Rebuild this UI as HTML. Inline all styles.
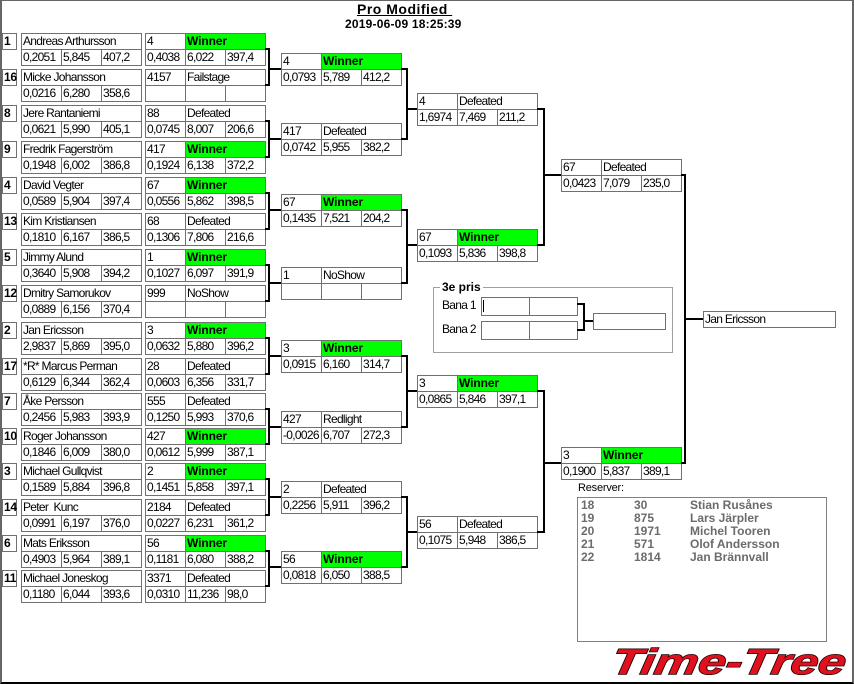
<!DOCTYPE html>
<html>
<head>
<meta charset="utf-8">
<style>
body{margin:0;width:854px;height:684px;position:relative;overflow:hidden;background:#fff;font-family:"Liberation Sans",sans-serif;color:#000}
.frame{position:absolute;left:0;top:0;width:854px;height:684px;box-sizing:border-box;border-top:1px solid #666;border-left:2px solid #666;border-right:2px solid #666;border-bottom:2px solid #000}
.b{position:absolute;width:121px;height:33px}
.c{position:absolute;box-sizing:border-box;height:17px;border:1px solid #707070;font-size:12px;letter-spacing:-0.7px;line-height:15px;padding-left:1px;white-space:nowrap;overflow:hidden;background:#fff}
.n{left:0;top:0;width:121px}
.p{left:0;top:0;width:41px}
.q{left:40px;top:0;width:81px}
.x{left:0;top:16px;width:41px}
.y{left:40px;top:16px;width:41px}
.z{left:80px;top:16px;width:41px}
.g{background:#00ff00;font-weight:bold;letter-spacing:-0.1px}
.s{position:absolute;left:2px;width:15px;height:17px;box-sizing:border-box;border:1px solid #707070;font-weight:bold;font-size:12px;line-height:15px;padding-left:1px;letter-spacing:-0.3px}
.br{position:absolute;box-sizing:border-box;border:2px solid #000;border-left:0}
.l{position:absolute;background:#000;height:2px}
.t{position:absolute;white-space:nowrap}
.rs{position:absolute;font-size:12px;font-weight:bold;color:#6b6b6b;line-height:13px;white-space:nowrap}
</style>
</head>
<body>
<div class="frame"></div>

<div class="t" style="left:357px;top:1px;font-size:14px;font-weight:bold;letter-spacing:0.5px;line-height:16px;text-decoration:underline">Pro Modified&nbsp;</div>
<div class="t" style="left:345px;top:17px;font-size:12px;font-weight:bold;letter-spacing:0.2px;line-height:14px">2019-06-09 18:25:39</div>

<!-- Round 1 -->
<div class="s" style="top:33px">1</div>
<div class="b" style="left:21px;top:33px"><div class="c n">Andreas Arthursson</div><div class="c x">0,2051</div><div class="c y">5,845</div><div class="c z">407,2</div></div>
<div class="b" style="left:145px;top:33px"><div class="c p">4</div><div class="c q g">Winner</div><div class="c x">0,4038</div><div class="c y">6,022</div><div class="c z">397,4</div></div>

<div class="s" style="top:69px">16</div>
<div class="b" style="left:21px;top:69px"><div class="c n">Micke Johansson</div><div class="c x">0,0216</div><div class="c y">6,280</div><div class="c z">358,6</div></div>
<div class="b" style="left:145px;top:69px"><div class="c p">4157</div><div class="c q">Failstage</div><div class="c x"></div><div class="c y"></div><div class="c z"></div></div>

<div class="s" style="top:105px">8</div>
<div class="b" style="left:21px;top:105px"><div class="c n">Jere Rantaniemi</div><div class="c x">0,0621</div><div class="c y">5,990</div><div class="c z">405,1</div></div>
<div class="b" style="left:145px;top:105px"><div class="c p">88</div><div class="c q">Defeated</div><div class="c x">0,0745</div><div class="c y">8,007</div><div class="c z">206,6</div></div>

<div class="s" style="top:141px">9</div>
<div class="b" style="left:21px;top:141px"><div class="c n">Fredrik Fagerström</div><div class="c x">0,1948</div><div class="c y">6,002</div><div class="c z">386,8</div></div>
<div class="b" style="left:145px;top:141px"><div class="c p">417</div><div class="c q g">Winner</div><div class="c x">0,1924</div><div class="c y">6,138</div><div class="c z">372,2</div></div>

<div class="s" style="top:177px">4</div>
<div class="b" style="left:21px;top:177px"><div class="c n">David Vegter</div><div class="c x">0,0589</div><div class="c y">5,904</div><div class="c z">397,4</div></div>
<div class="b" style="left:145px;top:177px"><div class="c p">67</div><div class="c q g">Winner</div><div class="c x">0,0556</div><div class="c y">5,862</div><div class="c z">398,5</div></div>

<div class="s" style="top:213px">13</div>
<div class="b" style="left:21px;top:213px"><div class="c n">Kim Kristiansen</div><div class="c x">0,1810</div><div class="c y">6,167</div><div class="c z">386,5</div></div>
<div class="b" style="left:145px;top:213px"><div class="c p">68</div><div class="c q">Defeated</div><div class="c x">0,1306</div><div class="c y">7,806</div><div class="c z">216,6</div></div>

<div class="s" style="top:249px">5</div>
<div class="b" style="left:21px;top:249px"><div class="c n">Jimmy Alund</div><div class="c x">0,3640</div><div class="c y">5,908</div><div class="c z">394,2</div></div>
<div class="b" style="left:145px;top:249px"><div class="c p">1</div><div class="c q g">Winner</div><div class="c x">0,1027</div><div class="c y">6,097</div><div class="c z">391,9</div></div>

<div class="s" style="top:285px">12</div>
<div class="b" style="left:21px;top:285px"><div class="c n">Dmitry Samorukov</div><div class="c x">0,0889</div><div class="c y">6,156</div><div class="c z">370,4</div></div>
<div class="b" style="left:145px;top:285px"><div class="c p">999</div><div class="c q">NoShow</div><div class="c x"></div><div class="c y"></div><div class="c z"></div></div>

<div class="s" style="top:322px">2</div>
<div class="b" style="left:21px;top:322px"><div class="c n">Jan Ericsson</div><div class="c x">2,9837</div><div class="c y">5,869</div><div class="c z">395,0</div></div>
<div class="b" style="left:145px;top:322px"><div class="c p">3</div><div class="c q g">Winner</div><div class="c x">0,0632</div><div class="c y">5,880</div><div class="c z">396,2</div></div>

<div class="s" style="top:358px">17</div>
<div class="b" style="left:21px;top:358px"><div class="c n">*R* Marcus Perman</div><div class="c x">0,6129</div><div class="c y">6,344</div><div class="c z">362,4</div></div>
<div class="b" style="left:145px;top:358px"><div class="c p">28</div><div class="c q">Defeated</div><div class="c x">0,0603</div><div class="c y">6,356</div><div class="c z">331,7</div></div>

<div class="s" style="top:393px">7</div>
<div class="b" style="left:21px;top:393px"><div class="c n">Åke Persson</div><div class="c x">0,2456</div><div class="c y">5,983</div><div class="c z">393,9</div></div>
<div class="b" style="left:145px;top:393px"><div class="c p">555</div><div class="c q">Defeated</div><div class="c x">0,1250</div><div class="c y">5,993</div><div class="c z">370,6</div></div>

<div class="s" style="top:428px">10</div>
<div class="b" style="left:21px;top:428px"><div class="c n">Roger Johansson</div><div class="c x">0,1846</div><div class="c y">6,009</div><div class="c z">380,0</div></div>
<div class="b" style="left:145px;top:428px"><div class="c p">427</div><div class="c q g">Winner</div><div class="c x">0,0612</div><div class="c y">5,999</div><div class="c z">387,1</div></div>

<div class="s" style="top:463px">3</div>
<div class="b" style="left:21px;top:463px"><div class="c n">Michael Gullqvist</div><div class="c x">0,1589</div><div class="c y">5,884</div><div class="c z">396,8</div></div>
<div class="b" style="left:145px;top:463px"><div class="c p">2</div><div class="c q g">Winner</div><div class="c x">0,1451</div><div class="c y">5,858</div><div class="c z">397,1</div></div>

<div class="s" style="top:499px">14</div>
<div class="b" style="left:21px;top:499px"><div class="c n">Peter&nbsp; Kunc</div><div class="c x">0,0991</div><div class="c y">6,197</div><div class="c z">376,0</div></div>
<div class="b" style="left:145px;top:499px"><div class="c p">2184</div><div class="c q">Defeated</div><div class="c x">0,0227</div><div class="c y">6,231</div><div class="c z">361,2</div></div>

<div class="s" style="top:535px">6</div>
<div class="b" style="left:21px;top:535px"><div class="c n">Mats Eriksson</div><div class="c x">0,4903</div><div class="c y">5,964</div><div class="c z">389,1</div></div>
<div class="b" style="left:145px;top:535px"><div class="c p">56</div><div class="c q g">Winner</div><div class="c x">0,1181</div><div class="c y">6,080</div><div class="c z">388,2</div></div>

<div class="s" style="top:570px">11</div>
<div class="b" style="left:21px;top:570px"><div class="c n">Michael Joneskog</div><div class="c x">0,1180</div><div class="c y">6,044</div><div class="c z">393,6</div></div>
<div class="b" style="left:145px;top:570px"><div class="c p">3371</div><div class="c q">Defeated</div><div class="c x">0,0310</div><div class="c y">11,236</div><div class="c z">98,0</div></div>

<!-- R1 -> R2 brackets -->
<div class="br" style="left:265px;top:48px;width:5px;height:38px"></div><div class="l" style="left:268px;top:68px;width:13px"></div>
<div class="br" style="left:265px;top:120px;width:5px;height:38px"></div><div class="l" style="left:268px;top:138px;width:13px"></div>
<div class="br" style="left:265px;top:192px;width:5px;height:38px"></div><div class="l" style="left:268px;top:209px;width:13px"></div>
<div class="br" style="left:265px;top:264px;width:5px;height:38px"></div><div class="l" style="left:268px;top:282px;width:13px"></div>
<div class="br" style="left:265px;top:337px;width:5px;height:38px"></div><div class="l" style="left:268px;top:355px;width:13px"></div>
<div class="br" style="left:265px;top:408px;width:5px;height:37px"></div><div class="l" style="left:268px;top:426px;width:13px"></div>
<div class="br" style="left:265px;top:478px;width:5px;height:38px"></div><div class="l" style="left:268px;top:496px;width:13px"></div>
<div class="br" style="left:265px;top:550px;width:5px;height:37px"></div><div class="l" style="left:268px;top:566px;width:13px"></div>

<!-- Round 2 -->
<div class="b" style="left:281px;top:53px"><div class="c p">4</div><div class="c q g">Winner</div><div class="c x">0,0793</div><div class="c y">5,789</div><div class="c z">412,2</div></div>
<div class="b" style="left:281px;top:123px"><div class="c p">417</div><div class="c q">Defeated</div><div class="c x">0,0742</div><div class="c y">5,955</div><div class="c z">382,2</div></div>
<div class="b" style="left:281px;top:194px"><div class="c p">67</div><div class="c q g">Winner</div><div class="c x">0,1435</div><div class="c y">7,521</div><div class="c z">204,2</div></div>
<div class="b" style="left:281px;top:267px"><div class="c p">1</div><div class="c q">NoShow</div><div class="c x"></div><div class="c y"></div><div class="c z"></div></div>
<div class="b" style="left:281px;top:340px"><div class="c p">3</div><div class="c q g">Winner</div><div class="c x">0,0915</div><div class="c y">6,160</div><div class="c z">314,7</div></div>
<div class="b" style="left:281px;top:411px"><div class="c p">427</div><div class="c q">Redlight</div><div class="c x">-0,0026</div><div class="c y">6,707</div><div class="c z">272,3</div></div>
<div class="b" style="left:281px;top:481px"><div class="c p">2</div><div class="c q">Defeated</div><div class="c x">0,2256</div><div class="c y">5,911</div><div class="c z">396,2</div></div>
<div class="b" style="left:281px;top:551px"><div class="c p">56</div><div class="c q g">Winner</div><div class="c x">0,0818</div><div class="c y">6,050</div><div class="c z">388,5</div></div>

<!-- R2 -> R3 brackets -->
<div class="br" style="left:401px;top:68px;width:7px;height:72px"></div><div class="l" style="left:406px;top:108px;width:11px"></div>
<div class="br" style="left:401px;top:209px;width:7px;height:75px"></div><div class="l" style="left:406px;top:244px;width:11px"></div>
<div class="br" style="left:401px;top:355px;width:7px;height:73px"></div><div class="l" style="left:406px;top:390px;width:11px"></div>
<div class="br" style="left:401px;top:496px;width:7px;height:72px"></div><div class="l" style="left:406px;top:531px;width:11px"></div>

<!-- Round 3 -->
<div class="b" style="left:417px;top:93px"><div class="c p">4</div><div class="c q">Defeated</div><div class="c x">1,6974</div><div class="c y">7,469</div><div class="c z">211,2</div></div>
<div class="b" style="left:417px;top:229px"><div class="c p">67</div><div class="c q g">Winner</div><div class="c x">0,1093</div><div class="c y">5,836</div><div class="c z">398,8</div></div>
<div class="b" style="left:417px;top:375px"><div class="c p">3</div><div class="c q g">Winner</div><div class="c x">0,0865</div><div class="c y">5,846</div><div class="c z">397,1</div></div>
<div class="b" style="left:417px;top:516px"><div class="c p">56</div><div class="c q">Defeated</div><div class="c x">0,1075</div><div class="c y">5,948</div><div class="c z">386,5</div></div>

<!-- R3 -> R4 brackets -->
<div class="br" style="left:537px;top:108px;width:8px;height:138px"></div><div class="l" style="left:543px;top:174px;width:18px"></div>
<div class="br" style="left:537px;top:390px;width:8px;height:143px"></div><div class="l" style="left:543px;top:462px;width:18px"></div>

<!-- Round 4 -->
<div class="b" style="left:561px;top:159px"><div class="c p">67</div><div class="c q">Defeated</div><div class="c x">0,0423</div><div class="c y">7,079</div><div class="c z">235,0</div></div>
<div class="b" style="left:561px;top:447px"><div class="c p">3</div><div class="c q g">Winner</div><div class="c x">0,1900</div><div class="c y">5,837</div><div class="c z">389,1</div></div>

<!-- R4 -> Final -->
<div class="br" style="left:681px;top:174px;width:5px;height:290px"></div><div class="l" style="left:684px;top:318px;width:19px"></div>
<div class="c" style="left:703px;top:311px;width:133px">Jan Ericsson</div>

<!-- 3e pris -->
<div style="position:absolute;left:433px;top:287px;width:240px;height:66px;box-sizing:border-box;border:1px solid #a0a0a0"></div>
<div class="t" style="left:440px;top:280px;font-size:12px;font-weight:bold;line-height:14px;background:#fff;padding:0 2px">3e pris</div>
<div class="t" style="left:442px;top:297px;font-size:12px;letter-spacing:-0.7px;line-height:17px">Bana 1</div>
<div class="t" style="left:442px;top:321px;font-size:12px;letter-spacing:-0.7px;line-height:17px">Bana 2</div>
<div class="c" style="left:481px;top:297px;width:49px;height:19px"></div>
<div class="c" style="left:529px;top:297px;width:49px;height:19px"></div>
<div style="position:absolute;left:483px;top:300px;width:1px;height:12px;background:#000"></div>
<div class="c" style="left:481px;top:321px;width:49px;height:19px"></div>
<div class="c" style="left:529px;top:321px;width:49px;height:19px"></div>
<div class="br" style="left:577px;top:303px;width:8px;height:28px"></div><div class="l" style="left:583px;top:320px;width:10px"></div>
<div class="c" style="left:593px;top:313px;width:73px"></div>

<!-- Reserver -->
<div class="t" style="left:578px;top:482px;font-size:11px;letter-spacing:-0.2px;line-height:13px">Reserver:</div>
<div style="position:absolute;left:577px;top:497px;width:250px;height:145px;box-sizing:border-box;border:1px solid #808080"></div>
<div class="rs" style="left:581px;top:499px">18</div><div class="rs" style="left:634px;top:499px">30</div><div class="rs" style="left:690px;top:499px">Stian Rusånes</div>
<div class="rs" style="left:581px;top:512px">19</div><div class="rs" style="left:634px;top:512px">875</div><div class="rs" style="left:690px;top:512px">Lars Järpler</div>
<div class="rs" style="left:581px;top:525px">20</div><div class="rs" style="left:634px;top:525px">1971</div><div class="rs" style="left:690px;top:525px">Michel Tooren</div>
<div class="rs" style="left:581px;top:538px">21</div><div class="rs" style="left:634px;top:538px">571</div><div class="rs" style="left:690px;top:538px">Olof Andersson</div>
<div class="rs" style="left:581px;top:551px">22</div><div class="rs" style="left:634px;top:551px">1814</div><div class="rs" style="left:690px;top:551px">Jan Brännvall</div>

<!-- Logo -->
<svg style="position:absolute;left:600px;top:640px" width="254" height="42" viewBox="0 0 254 42">
<text x="10" y="34" transform="skewX(-10) translate(6,0)" font-family="Liberation Sans, sans-serif" font-weight="bold" font-style="italic" font-size="36" textLength="234" lengthAdjust="spacingAndGlyphs" fill="#e0101e" stroke="#1a0000" stroke-width="1.4" paint-order="stroke">Time-Tree</text>
</svg>
</body>
</html>
